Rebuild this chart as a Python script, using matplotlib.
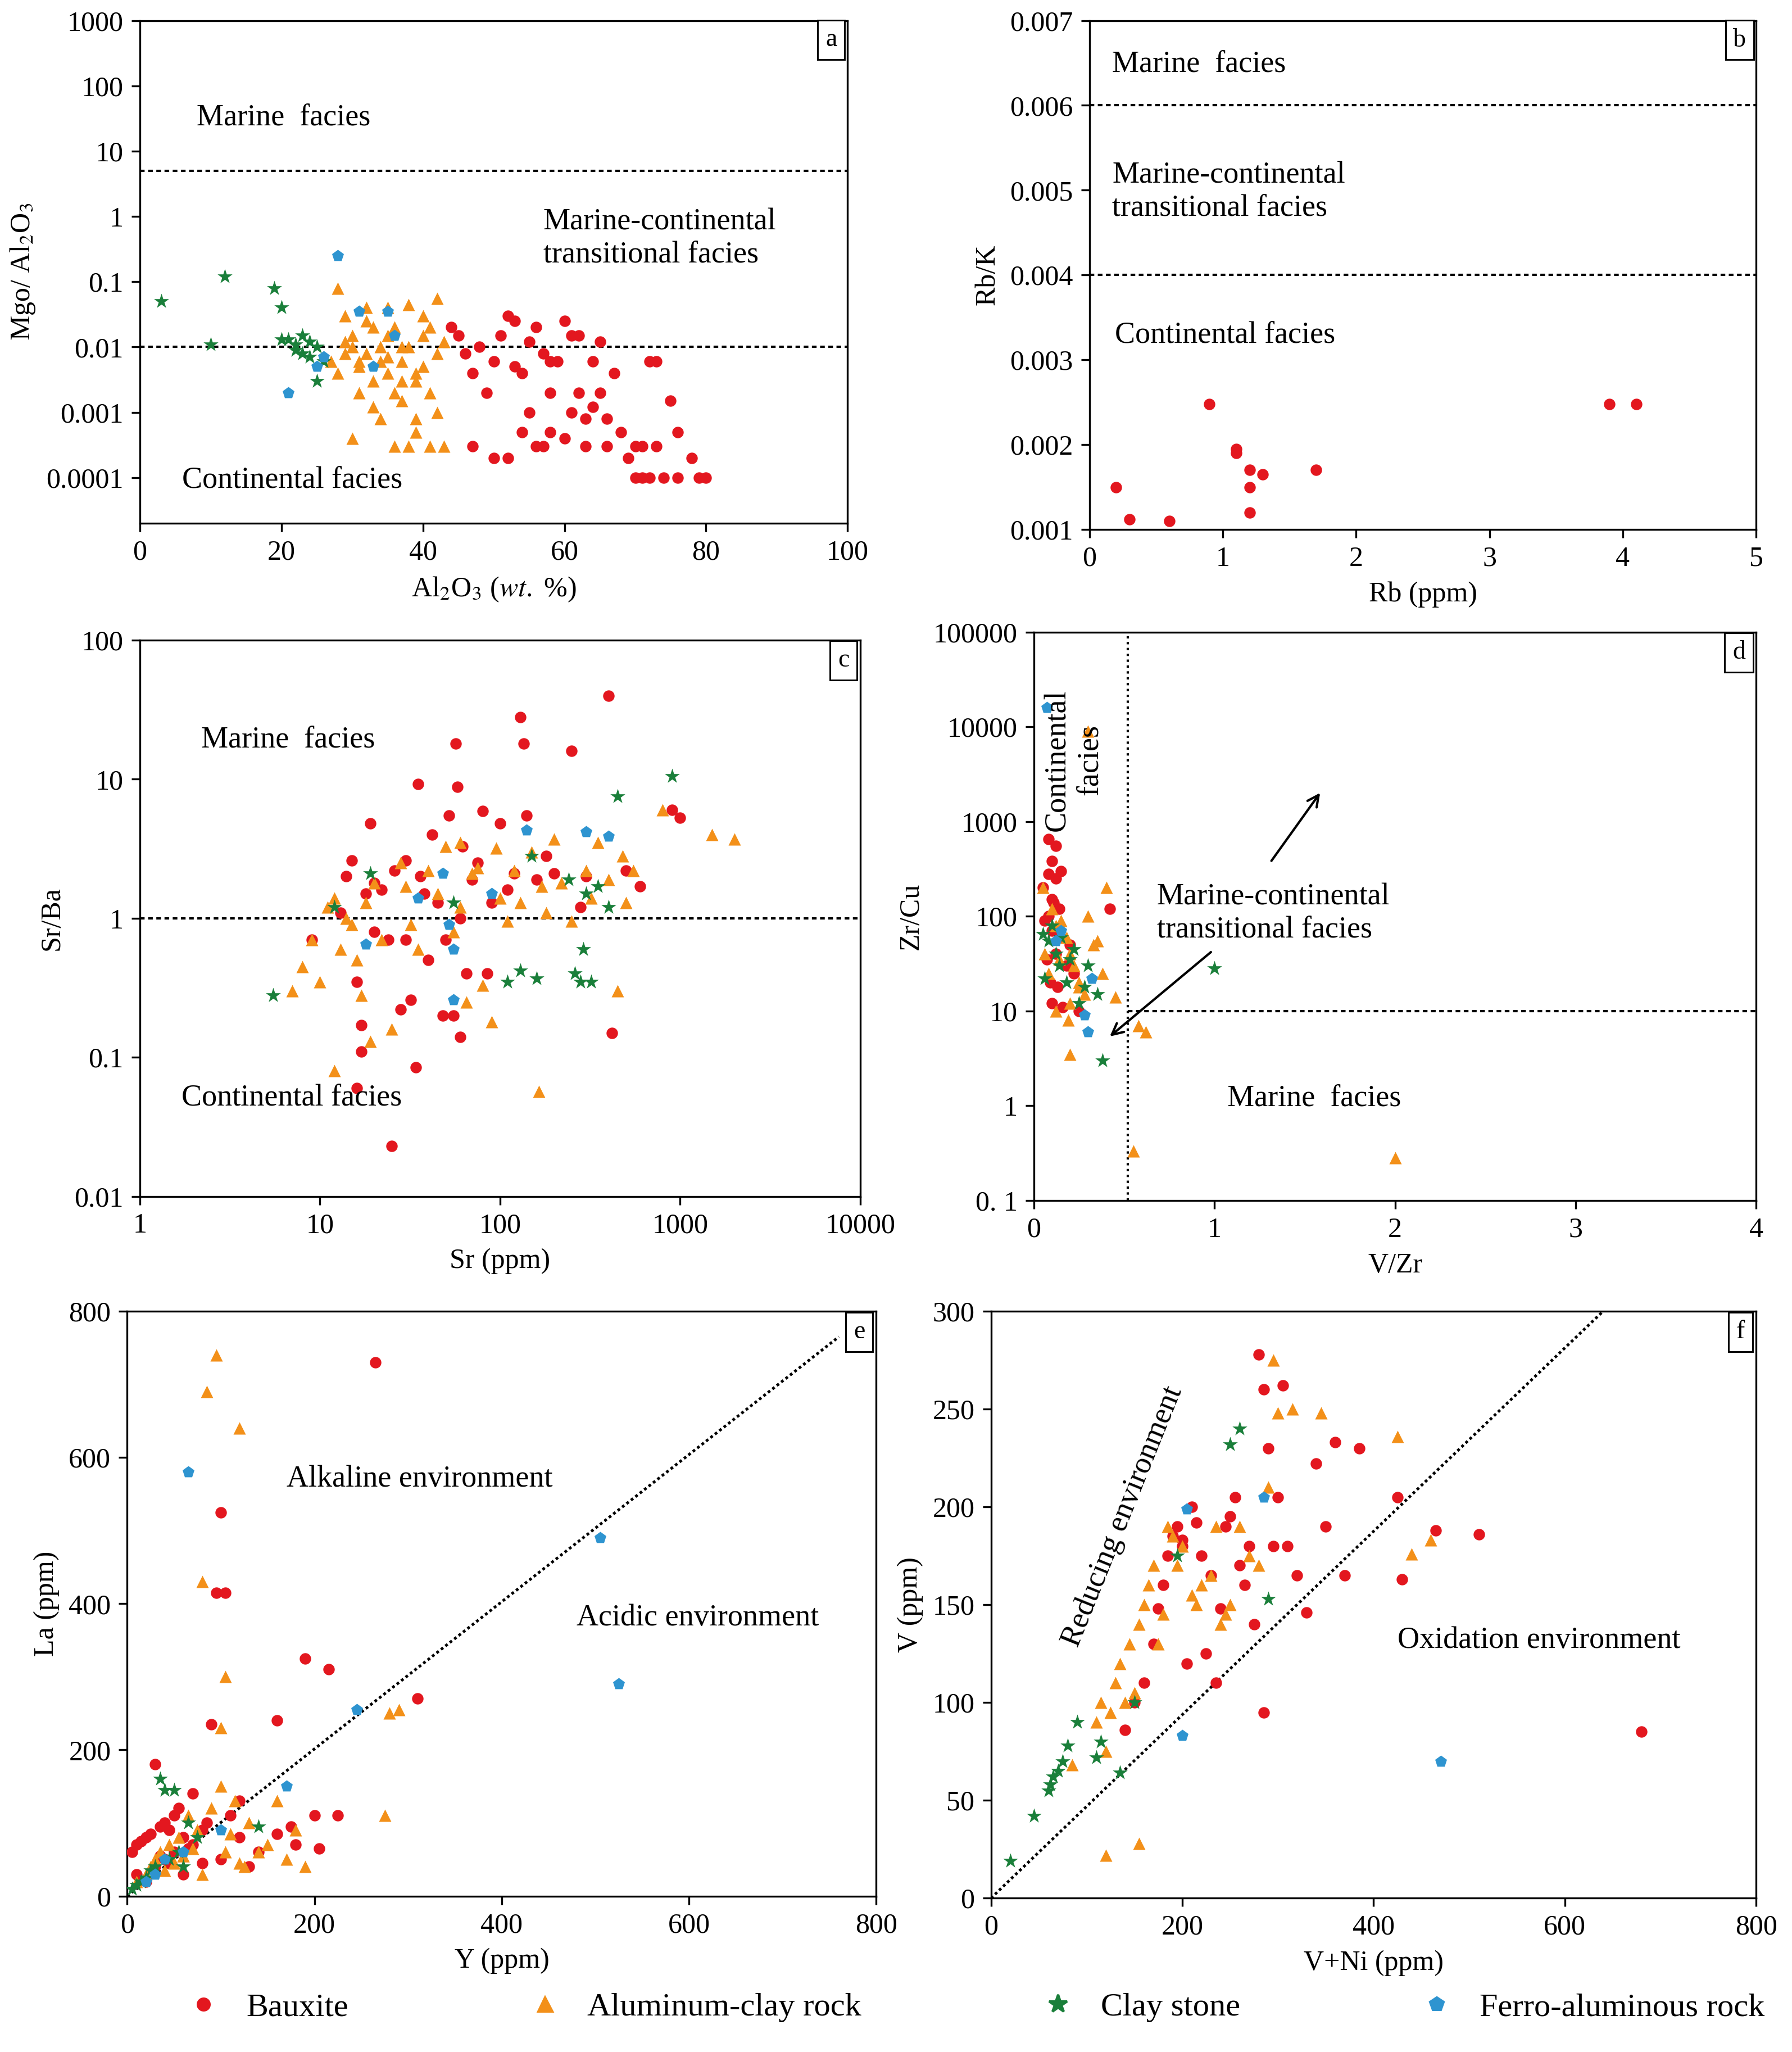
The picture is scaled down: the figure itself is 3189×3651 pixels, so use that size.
import matplotlib.pyplot as plt
import numpy as np

# serif look like the paper figure
plt.rcParams['font.family'] = ['Liberation Serif', 'DejaVu Serif']
plt.rcParams['mathtext.fontset'] = 'stix'
plt.rcParams['font.size'] = 12

# colours for the four rock types
red = '#e3171f'
orange = '#f39019'
green = '#1a7f3a'
blue = '#2e94d0'

# panel a: Al2O3 (wt.%) vs MgO/Al2O3
aBauxX = [44, 45, 46, 47, 48, 49, 50, 50, 51, 52, 53, 53, 54, 55, 55, 56, 56, 57, 57, 58, 58, 59, 60, 60, 61, 61, 62, 62, 63, 63,
          64, 64, 65, 65, 66, 66, 67, 68, 69, 70, 70, 71, 71, 72, 72, 73, 73, 74, 75, 76, 76, 78, 79, 80, 58, 47, 52, 54]
aBauxY = [0.02, 0.015, 0.008, 0.004, 0.01, 0.002, 0.0002, 0.006, 0.015, 0.03, 0.025, 0.005, 0.0005, 0.012, 0.001, 0.02, 0.0003,
          0.008, 0.0003, 0.0005, 0.002, 0.006, 0.0004, 0.025, 0.015, 0.001, 0.002, 0.015, 0.0003, 0.0008, 0.0012, 0.006, 0.002,
          0.012, 0.0008, 0.0003, 0.004, 0.0005, 0.0002, 0.0003, 0.0001, 0.0001, 0.0003, 0.006, 0.0001, 0.006, 0.0003, 0.0001,
          0.0015, 0.0005, 0.0001, 0.0002, 0.0001, 0.0001, 0.006, 0.0003, 0.0002, 0.004]
aClayX = [27, 28, 28, 29, 29, 30, 30, 31, 31, 32, 32, 33, 33, 34, 34, 35, 35, 36, 36, 37, 37, 38, 38, 39, 39, 40, 40, 41, 41, 42,
          42, 43, 43, 30, 32, 34, 36, 38, 40, 42, 29, 31, 33, 35, 37, 39, 41, 35, 37, 39]
aClayY = [0.006, 0.08, 0.004, 0.03, 0.008, 0.0004, 0.015, 0.005, 0.002, 0.04, 0.008, 0.003, 0.02, 0.0008, 0.01, 0.04, 0.004, 0.0003,
          0.02, 0.006, 0.0015, 0.045, 0.01, 0.003, 0.0008, 0.015, 0.005, 0.0003, 0.002, 0.008, 0.055, 0.0003, 0.012, 0.01, 0.025,
          0.006, 0.002, 0.0003, 0.03, 0.001, 0.012, 0.006, 0.0012, 0.015, 0.003, 0.0005, 0.02, 0.007, 0.01, 0.004]
aStarX = [3, 10, 12, 19, 20, 20, 21, 22, 22, 23, 23, 24, 24, 25, 25, 26]
aStarY = [0.05, 0.011, 0.12, 0.08, 0.04, 0.013, 0.013, 0.011, 0.009, 0.015, 0.008, 0.012, 0.007, 0.01, 0.003, 0.006]
aFerroX = [21, 25, 26, 28, 31, 33, 35, 36]
aFerroY = [0.002, 0.005, 0.007, 0.25, 0.035, 0.005, 0.035, 0.015]

# panel b: Rb (ppm) vs Rb/K, bauxite only
bBauxX = [0.2, 0.3, 0.6, 0.9, 1.1, 1.1, 1.2, 1.2, 1.2, 1.3, 1.7, 3.9, 4.1]
bBauxY = [0.0015, 0.00112, 0.0011, 0.00248, 0.00195, 0.0019, 0.0017, 0.0015, 0.0012, 0.00165, 0.0017, 0.00248, 0.00248]

# panel c: Sr (ppm) vs Sr/Ba
cBauxX = [9, 13, 14, 15, 16, 16, 17, 17, 18, 19, 20, 22, 24, 25, 26, 28, 30, 32, 34, 35, 36, 38, 40, 42, 45, 48, 50, 52, 55, 57,
          58, 60, 62, 65, 70, 75, 80, 85, 90, 100, 110, 120, 130, 135, 140, 160, 180, 200, 250, 280, 300, 400, 420, 500, 600, 900,
          1000, 20, 30, 60]
cBauxY = [0.7, 1.1, 2.0, 2.6, 0.35, 0.06, 0.17, 0.11, 1.5, 4.8, 0.8, 1.6, 0.7, 0.023, 2.2, 0.22, 0.7, 0.26, 0.085, 9.2, 2.0, 1.5,
          0.5, 4.0, 1.3, 0.2, 0.7, 5.5, 0.2, 18, 8.8, 0.14, 3.3, 0.4, 1.9, 2.5, 5.9, 0.4, 1.3, 4.8, 1.6, 2.1, 28, 18, 5.5, 1.9,
          2.8, 2.1, 16, 1.2, 2.0, 40, 0.15, 2.2, 1.7, 6.0, 5.3, 1.8, 2.6, 1.0]
cClayX = [7, 8, 9, 10, 11, 12, 12, 13, 14, 15, 16, 17, 18, 19, 20, 22, 25, 28, 30, 32, 35, 40, 45, 50, 55, 60, 65, 70, 80, 90,
          95, 100, 110, 120, 130, 150, 165, 170, 180, 200, 220, 250, 300, 320, 350, 400, 450, 480, 500, 550, 800, 1500, 2000, 60, 75]
cClayY = [0.3, 0.45, 0.7, 0.35, 1.2, 0.08, 1.4, 0.6, 1.0, 0.9, 0.5, 0.28, 1.3, 0.13, 1.8, 0.7, 0.16, 2.5, 1.7, 0.9, 0.6, 2.2,
          1.5, 3.3, 0.8, 3.5, 0.25, 2.1, 0.33, 0.18, 3.2, 1.4, 0.95, 2.2, 1.3, 3.0, 0.057, 1.7, 1.1, 3.7, 1.8, 0.95, 2.2, 1.4,
          3.5, 1.9, 0.3, 2.8, 1.3, 2.2, 6.0, 4.0, 3.7, 1.2, 2.3]
cStarX = [5.5, 12, 19, 55, 110, 130, 150, 160, 240, 260, 280, 290, 300, 320, 350, 400, 450, 900]
cStarY = [0.28, 1.2, 2.1, 1.3, 0.35, 0.42, 2.8, 0.37, 1.9, 0.4, 0.35, 0.6, 1.5, 0.35, 1.7, 1.2, 7.5, 10.5]
cFerroX = [18, 35, 48, 52, 55, 55, 90, 140, 300, 400]
cFerroY = [0.65, 1.4, 2.1, 0.9, 0.6, 0.26, 1.5, 4.3, 4.2, 3.9]

# panel d: V/Zr vs Zr/Cu
dBauxX = [0.08, 0.1, 0.12, 0.15, 0.05, 0.08, 0.1, 0.12, 0.14, 0.06, 0.1, 0.15, 0.2, 0.07, 0.12, 0.18, 0.09, 0.13, 0.22, 0.1,
          0.16, 0.25, 0.42, 0.08, 0.11]
dBauxY = [650, 380, 550, 300, 200, 280, 150, 250, 120, 90, 70, 60, 50, 35, 40, 30, 20, 18, 25, 12, 11, 10, 120, 100, 140]
dClayX = [0.3, 0.05, 0.1, 0.12, 0.15, 0.18, 0.2, 0.22, 0.25, 0.28, 0.08, 0.14, 0.2, 0.3, 0.35, 0.4, 0.06, 0.12, 0.19, 0.25, 0.45,
          0.58, 0.62, 0.55, 2.0, 0.2, 0.33, 0.38]
dClayY = [9000, 200, 120, 80, 90, 60, 40, 30, 20, 15, 25, 35, 12, 100, 55, 200, 40, 10, 8, 18, 14, 7, 6, 0.33, 0.28, 3.5, 50, 25]
dStarX = [0.05, 0.06, 0.08, 0.1, 0.12, 0.14, 0.15, 0.18, 0.2, 0.22, 0.25, 0.28, 0.3, 0.35, 0.38, 1.0]
dStarY = [65, 22, 55, 80, 40, 30, 60, 20, 35, 45, 12, 18, 30, 15, 3, 28]
dFerroX = [0.07, 0.12, 0.15, 0.3, 0.32, 0.28]
dFerroY = [16000, 55, 70, 6, 22, 9]

# panel e: Y (ppm) vs La (ppm)
eBauxX = [5, 10, 15, 20, 25, 30, 35, 40, 45, 50, 55, 60, 70, 80, 90, 95, 100, 105, 110, 120, 130, 160, 175, 190, 205, 215, 225,
          265, 310, 30, 40, 50, 60, 70, 80, 100, 120, 140, 160, 180, 200, 10, 20, 35, 45, 65, 85]
eBauxY = [60, 70, 75, 80, 85, 180, 95, 100, 90, 110, 120, 80, 140, 90, 235, 415, 525, 415, 110, 130, 40, 240, 95, 325, 65, 310,
          110, 730, 270, 40, 50, 60, 30, 70, 45, 50, 80, 60, 85, 70, 110, 30, 20, 55, 45, 65, 100]
eClayX = [10, 20, 25, 30, 35, 40, 45, 50, 55, 60, 65, 70, 75, 80, 85, 90, 95, 100, 105, 110, 115, 120, 125, 130, 140, 150, 160,
          170, 180, 190, 275, 280, 290, 100, 105, 80, 60, 120]
eClayY = [20, 30, 40, 50, 60, 35, 70, 45, 80, 55, 110, 65, 90, 430, 690, 120, 740, 230, 300, 85, 130, 640, 40, 100, 60, 70, 130,
          50, 90, 40, 110, 250, 255, 150, 60, 30, 55, 45]
eStarX = [5, 10, 15, 20, 25, 30, 35, 40, 45, 50, 55, 60, 65, 75, 140]
eStarY = [10, 15, 20, 25, 35, 40, 160, 145, 50, 145, 60, 40, 100, 80, 95]
eFerroX = [20, 30, 40, 60, 65, 100, 170, 245, 505, 525]
eFerroY = [20, 30, 50, 60, 580, 90, 150, 255, 490, 290]

# panel f: V+Ni (ppm) vs V (ppm)
fBauxX = [140, 150, 160, 170, 175, 180, 185, 190, 195, 200, 205, 210, 215, 220, 225, 230, 235, 240, 245, 250, 255, 260, 265,
          270, 275, 280, 285, 290, 295, 300, 305, 310, 320, 330, 340, 350, 360, 370, 385, 425, 430, 465, 510, 680, 285, 200]
fBauxY = [86, 100, 110, 130, 148, 160, 175, 185, 190, 180, 120, 200, 192, 175, 125, 165, 110, 148, 190, 195, 205, 170, 160, 180,
          140, 278, 95, 230, 180, 205, 262, 180, 165, 146, 222, 190, 233, 165, 230, 205, 163, 188, 186, 85, 260, 183]
fClayX = [110, 115, 120, 125, 130, 135, 140, 145, 150, 155, 160, 165, 170, 175, 180, 185, 190, 195, 200, 210, 215, 220, 230,
          235, 240, 245, 250, 260, 270, 280, 290, 295, 300, 315, 345, 425, 440, 460, 120, 155, 85]
fClayY = [90, 100, 75, 95, 110, 120, 100, 130, 105, 140, 150, 160, 170, 130, 145, 190, 185, 170, 180, 155, 150, 160, 165,
          190, 140, 145, 150, 190, 175, 170, 210, 275, 248, 250, 248, 236, 176, 183, 22, 28, 68]
fStarX = [20, 45, 60, 62, 65, 70, 75, 80, 90, 110, 115, 135, 150, 195, 250, 260, 290]
fStarY = [19, 42, 55, 58, 62, 65, 70, 78, 90, 72, 80, 64, 100, 175, 232, 240, 153]
fFerroX = [200, 205, 285, 470]
fFerroY = [83, 199, 205, 70]


def scatterAll(ax, data):
    # data is list of (x, y) for bauxite, clay rock, clay stone, ferro
    styles = [(red, 'o', 24), (orange, '^', 28), (green, '*', 45), (blue, 'p', 28)]
    for (x, y), (c, m, s) in zip(data, styles):
        if x:
            ax.scatter(x, y, c=c, marker=m, s=s, linewidths=0, zorder=3)


def panelLetter(ax, letter):
    ax.text(0.985, 0.985, letter, transform=ax.transAxes, ha='right', va='top', fontsize=11,
            bbox=dict(boxstyle='square,pad=0.3', fc='white', ec='black', lw=0.7))


def logLabels(ax, axis, ticks, labels):
    if axis == 'y':
        ax.set_yticks(ticks)
        ax.set_yticklabels(labels)
        ax.minorticks_off()
    else:
        ax.set_xticks(ticks)
        ax.set_xticklabels(labels)


def main():
    fig = plt.figure(figsize=(10.63, 12.17), dpi=300)

    # panel a
    ax = fig.add_axes([0.078, 0.745, 0.395, 0.245])
    ax.set_yscale('log')
    scatterAll(ax, [(aBauxX, aBauxY), (aClayX, aClayY), (aStarX, aStarY), (aFerroX, aFerroY)])
    ax.axhline(5, color='k', ls=(0, (2, 1.5)), lw=1)
    ax.axhline(0.01, color='k', ls=(0, (2, 1.5)), lw=1)
    ax.set_xlim(0, 100)
    ax.set_ylim(0.00002, 1000)
    logLabels(ax, 'y', [0.0001, 0.001, 0.01, 0.1, 1, 10, 100, 1000],
              ['0.0001', '0.001', '0.01', '0.1', '1', '10', '100', '1000'])
    ax.set_xlabel(r'Al$_2$O$_3$ ($\it{wt.}$ %)')
    ax.set_ylabel(r'Mgo/ Al$_2$O$_3$')
    ax.text(8, 25, 'Marine  facies', fontsize=13)
    ax.text(57, 0.2, 'Marine-continental\ntransitional facies', fontsize=13)
    ax.text(6, 0.00007, 'Continental facies', fontsize=13)
    panelLetter(ax, 'a')

    # panel b
    ax = fig.add_axes([0.608, 0.742, 0.372, 0.248])
    scatterAll(ax, [(bBauxX, bBauxY), ([], []), ([], []), ([], [])])
    ax.axhline(0.006, color='k', ls=(0, (2, 1.5)), lw=1)
    ax.axhline(0.004, color='k', ls=(0, (2, 1.5)), lw=1)
    ax.set_xlim(0, 5)
    ax.set_ylim(0.001, 0.007)
    ax.set_yticks([0.001, 0.002, 0.003, 0.004, 0.005, 0.006, 0.007])
    ax.set_xlabel('Rb (ppm)')
    ax.set_ylabel('Rb/K')
    ax.text(0.17, 0.0064, 'Marine  facies', fontsize=13)
    ax.text(0.17, 0.0047, 'Marine-continental\ntransitional facies', fontsize=13)
    ax.text(0.19, 0.0032, 'Continental facies', fontsize=13)
    panelLetter(ax, 'b')

    # panel c
    ax = fig.add_axes([0.078, 0.417, 0.402, 0.271])
    ax.set_xscale('log')
    ax.set_yscale('log')
    scatterAll(ax, [(cBauxX, cBauxY), (cClayX, cClayY), (cStarX, cStarY), (cFerroX, cFerroY)])
    ax.axhline(1, color='k', ls=(0, (2, 1.5)), lw=1)
    ax.set_xlim(1, 10000)
    ax.set_ylim(0.01, 100)
    logLabels(ax, 'y', [0.01, 0.1, 1, 10, 100], ['0.01', '0.1', '1', '10', '100'])
    logLabels(ax, 'x', [1, 10, 100, 1000, 10000], ['1', '10', '100', '1000', '10000'])
    ax.set_xlabel('Sr (ppm)')
    ax.set_ylabel('Sr/Ba')
    ax.text(2.2, 17, 'Marine  facies', fontsize=13)
    ax.text(1.7, 0.045, 'Continental facies', fontsize=13)
    panelLetter(ax, 'c')

    # panel d
    ax = fig.add_axes([0.577, 0.415, 0.403, 0.277])
    ax.set_yscale('log')
    scatterAll(ax, [(dBauxX, dBauxY), (dClayX, dClayY), (dStarX, dStarY), (dFerroX, dFerroY)])
    ax.axvline(0.52, color='k', ls=(0, (1, 1.5)), lw=1)
    ax.plot([0.52, 4], [10, 10], color='k', ls=(0, (2, 1.5)), lw=1)
    ax.set_xlim(0, 4)
    ax.set_ylim(0.1, 100000)
    logLabels(ax, 'y', [0.1, 1, 10, 100, 1000, 10000, 100000],
              ['0. 1', '1', '10', '100', '1000', '10000', '100000'])
    ax.set_xticks([0, 1, 2, 3, 4])
    ax.set_xlabel('V/Zr')
    ax.set_ylabel('Zr/Cu')
    ax.text(0.22, 25000, 'Continental\nfacies', rotation=90, va='top', ha='center', fontsize=13)
    ax.text(0.68, 60, 'Marine-continental\ntransitional facies', fontsize=13)
    ax.annotate('', xy=(1.6, 2200), xytext=(1.3, 350), arrowprops=dict(arrowstyle='->', lw=1))
    ax.annotate('', xy=(0.4, 5), xytext=(1.0, 45), arrowprops=dict(arrowstyle='->', lw=1))
    ax.text(1.07, 1.0, 'Marine  facies', fontsize=13)
    panelLetter(ax, 'd')

    # panel e
    ax = fig.add_axes([0.071, 0.076, 0.418, 0.285])
    scatterAll(ax, [(eBauxX, eBauxY), (eClayX, eClayY), (eStarX, eStarY), (eFerroX, eFerroY)])
    ax.plot([0, 760], [0, 765], color='k', ls=(0, (1, 1)), lw=1.2)
    ax.set_xlim(0, 800)
    ax.set_ylim(0, 800)
    ax.set_xticks([0, 200, 400, 600, 800])
    ax.set_yticks([0, 200, 400, 600, 800])
    ax.set_xlabel('Y (ppm)')
    ax.set_ylabel('La (ppm)')
    ax.text(170, 560, 'Alkaline environment', fontsize=13)
    ax.text(480, 370, 'Acidic environment', fontsize=13)
    panelLetter(ax, 'e')

    # panel f
    ax = fig.add_axes([0.553, 0.075, 0.427, 0.286])
    scatterAll(ax, [(fBauxX, fBauxY), (fClayX, fClayY), (fStarX, fStarY), (fFerroX, fFerroY)])
    ax.plot([0, 640], [0, 300], color='k', ls=(0, (1, 1)), lw=1.2)
    ax.set_xlim(0, 800)
    ax.set_ylim(0, 300)
    ax.set_xticks([0, 200, 400, 600, 800])
    ax.set_yticks([0, 50, 100, 150, 200, 250, 300])
    ax.set_xlabel('V+Ni (ppm)')
    ax.set_ylabel('V (ppm)')
    ax.text(70, 130, 'Reducing environment', rotation=68, fontsize=13)
    ax.text(425, 128, 'Oxidation environment', fontsize=13)
    panelLetter(ax, 'f')

    # legend along the bottom
    handles = [plt.Line2D([], [], ls='', marker='o', color=red, ms=5),
               plt.Line2D([], [], ls='', marker='^', color=orange, ms=6),
               plt.Line2D([], [], ls='', marker='*', color=green, ms=8),
               plt.Line2D([], [], ls='', marker='p', color=blue, ms=6)]
    fig.legend(handles, ['Bauxite', 'Aluminum-clay rock', 'Clay stone', 'Ferro-aluminous rock'],
               loc='lower center', bbox_to_anchor=(0.54, 0.0), ncol=4, frameon=False, fontsize=14,
               columnspacing=5, handletextpad=0.3)

    fig.savefig('out.png', dpi=300)


if __name__ == "__main__":
    main()
